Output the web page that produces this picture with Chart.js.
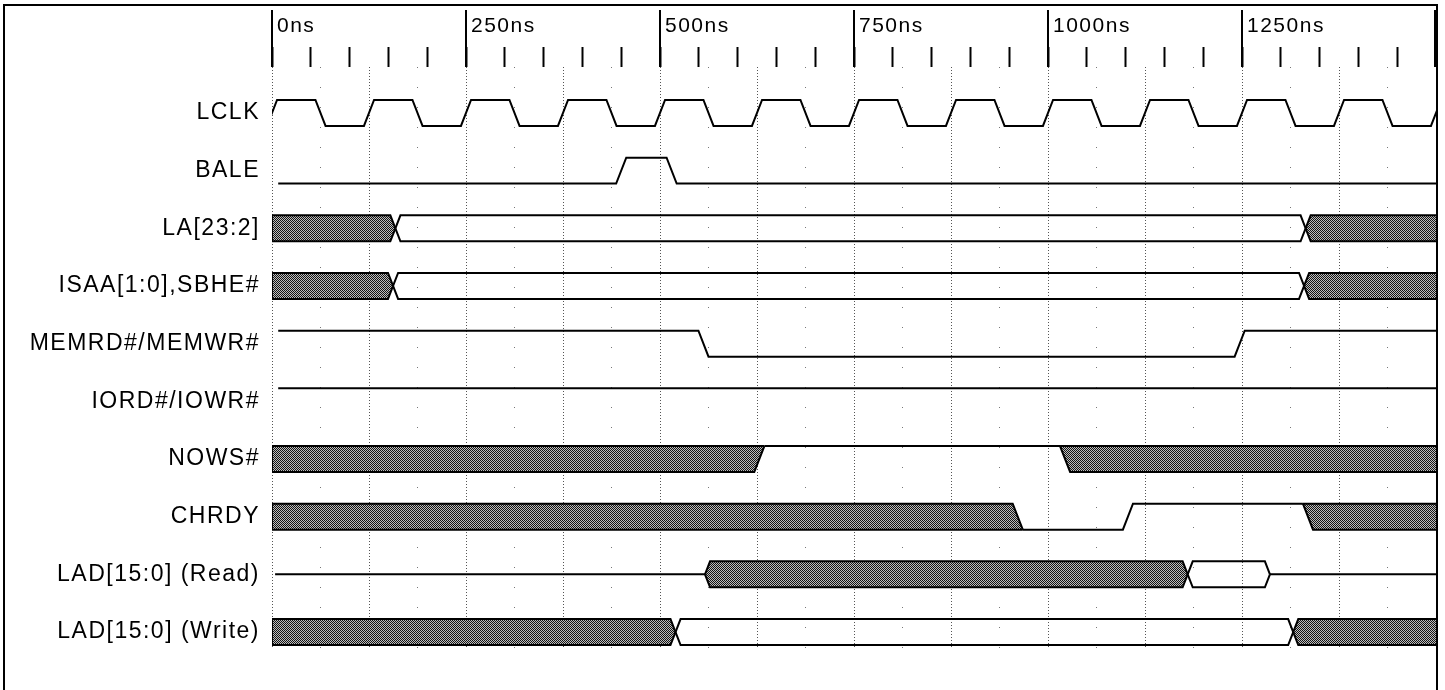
<!DOCTYPE html>
<html>
<head>
<meta charset="utf-8">
<title>ISA memory cycle timing</title>
<script src="https://cdn.jsdelivr.net/npm/chart.js@4.4.1/dist/chart.umd.min.js"></script>
<style>
html, body { margin: 0; padding: 0; background: #fff; }
#wrap { position: relative; width: 1445px; height: 690px; overflow: hidden; }
#timing { position: absolute; left: 0; top: 0; }
#frame { position: absolute; left: 3px; top: 4px; width: 1431px; height: 700px; border: 2px solid #000; border-bottom: none; pointer-events: none; }
</style>
</head>
<body>
<div id="wrap">
  <canvas id="timing" width="1445" height="690"></canvas>
  <div id="frame"></div>
</div>
<script>
// 信号名（上から順）
const rowNames = ['LCLK', 'BALE', 'LA[23:2]', 'ISAA[1:0],SBHE#', 'MEMRD#/MEMWR#',
                  'IORD#/IOWR#', 'NOWS#', 'CHRDY', 'LAD[15:0] (Read)', 'LAD[15:0] (Write)'];

// 時間軸の目盛り (ns)
const majorTimes  = [0, 250, 500, 750, 1000, 1250, 1500];
const majorLabels = ['0ns', '250ns', '500ns', '750ns', '1000ns', '1250ns', ''];
const T_END = 1500;

// 各信号の変化点 [時刻ns, 状態]  H=high L=low Z=float X=不定 V=有効
const lclk = [[-60, 'L'], [0, 'H'], [62.5, 'L'], [125, 'H'], [187.5, 'L'], [250, 'H'], [312.5, 'L'],
              [375, 'H'], [437.5, 'L'], [500, 'H'], [562.5, 'L'], [625, 'H'], [687.5, 'L'],
              [750, 'H'], [812.5, 'L'], [875, 'H'], [937.5, 'L'], [1000, 'H'], [1062.5, 'L'],
              [1125, 'H'], [1187.5, 'L'], [1250, 'H'], [1312.5, 'L'], [1375, 'H'], [1437.5, 'L'],
              [1500, 'H']];
const bale     = [[8, 'L'], [450, 'H'], [515, 'L']];
const la       = [[0, 'X'], [159, 'V'], [1332, 'X']];
const isaa     = [[0, 'X'], [156, 'V'], [1330, 'X']];
const memrd    = [[8, 'H'], [556, 'L'], [1247, 'H']];
const iord     = [[8, 'H']];
const nows     = [[0, 'X'], [628, 'H'], [1022, 'X']];
const chrdy    = [[0, 'X'], [961, 'L'], [1103, 'H'], [1335, 'X']];
const ladRead  = [[4, 'Z'], [558, 'X'], [1180, 'V'], [1286, 'Z']];
const ladWrite = [[0, 'X'], [520, 'V'], [1316, 'X']];
const signals = [lclk, bale, la, isaa, memrd, iord, nows, chrdy, ladRead, ladWrite];

// 描画用の定数
const EDGE = 6.5;      // 遷移の半分の幅 (ns)
const HALF = 0.225;    // 信号の半分の高さ (行単位)
const Y_MIN = -0.797;
const Y_MAX = 9.277;

const canvas = document.getElementById('timing');

// 網掛けパターン
function makeHatch() {
    const c = document.createElement('canvas');
    c.width = 2;
    c.height = 2;
    const g = c.getContext('2d');
    g.fillStyle = '#bdbdbd';
    g.fillRect(0, 0, 2, 2);
    g.fillStyle = '#141414';
    g.fillRect(0, 0, 1, 1);
    g.fillRect(1, 1, 1, 1);
    return canvas.getContext('2d').createPattern(c, 'repeat');
}
const hatch = makeHatch();

function pt(x, y) { return { x: x, y: y }; }

function lineDs(points, fillNext) {
    return {
        data: points,
        borderColor: '#000',
        borderWidth: 2,
        pointRadius: 0,
        tension: 0,
        fill: fillNext ? '+1' : false,
        backgroundColor: fillNext ? hatch : 'transparent'
    };
}

const isBus = s => s === 'X' || s === 'V';

// 1つの信号の線・網掛けを作る
function buildSignal(row, edges) {
    const out = [];
    const top = row - HALF, bot = row + HALF;
    const lvl = { H: top, L: bot, Z: row };
    let cur = null;
    edges.forEach(([t0, s], i) => {
        const prev = i > 0 ? edges[i - 1][1] : null;
        const hasNext = i + 1 < edges.length;
        const t1 = hasNext ? edges[i + 1][0] : T_END;
        const next = hasNext ? edges[i + 1][1] : null;
        if (!isBus(s)) {
            const y = lvl[s];
            const x0 = prev === null ? t0 : (s === 'Z' ? t0 : t0 + EDGE);
            const x1 = next === null ? T_END : (s === 'Z' ? t1 : t1 - EDGE);
            if (!cur) cur = [];
            cur.push(pt(x0, y), pt(x1, y));
            if (next === null || isBus(next)) {
                out.push(lineDs(cur, false));
                cur = null;
            }
            return;
        }
        const T = [], B = [];
        if (prev === null) {
            T.push(pt(t0, top));
            B.push(pt(t0, top), pt(t0, bot));
        } else if (prev === 'H') {
            T.push(pt(t0 - EDGE, top));
            B.push(pt(t0 - EDGE, top), pt(t0 + EDGE, bot));
        } else if (prev === 'L') {
            T.push(pt(t0 - EDGE, bot), pt(t0 + EDGE, top));
            B.push(pt(t0 - EDGE, bot));
        } else {
            T.push(pt(t0, row), pt(t0 + EDGE, top));
            B.push(pt(t0, row), pt(t0 + EDGE, bot));
        }
        if (next === null) {
            T.push(pt(T_END, top));
            B.push(pt(T_END, bot));
        } else if (next === 'H') {
            T.push(pt(t1 + EDGE, top));
            B.push(pt(t1 - EDGE, bot), pt(t1 + EDGE, top));
        } else if (next === 'L') {
            T.push(pt(t1 - EDGE, top), pt(t1 + EDGE, bot));
            B.push(pt(t1 + EDGE, bot));
        } else {
            T.push(pt(t1 - EDGE, top), pt(t1, row));
            B.push(pt(t1 - EDGE, bot), pt(t1, row));
        }
        out.push(lineDs(T, s === 'X'), lineDs(B, false));
    });
    return out;
}

let datasets = [];
signals.forEach((edges, row) => {
    datasets = datasets.concat(buildSignal(row, edges));
});

// 文字間隔を少し広げる
const textSpacing = {
    id: 'textSpacing',
    beforeDraw(chart) {
        chart.ctx.letterSpacing = '1.5px';
    }
};

// 250ns毎の長い目盛り
const majorTicks = {
    id: 'majorTicks',
    afterDraw(chart) {
        const ctx = chart.ctx;
        const x = chart.scales.x;
        ctx.save();
        ctx.strokeStyle = '#000';
        ctx.lineWidth = 2;
        majorTimes.forEach(v => {
            const px = Math.round(x.getPixelForValue(v)) + (v === T_END ? -1 : 0);
            ctx.beginPath();
            ctx.moveTo(px, x.top + 5);
            ctx.lineTo(px, x.bottom);
            ctx.stroke();
        });
        ctx.restore();
    }
};

new Chart(canvas, {
    type: 'line',
    data: { datasets: datasets },
    plugins: [textSpacing, majorTicks],
    options: {
        responsive: false,
        animation: false,
        events: [],
        layout: { padding: { top: 5, right: 9, bottom: 42, left: 0 } },
        plugins: {
            legend: { display: false },
            tooltip: { enabled: false },
            filler: { drawTime: 'beforeDatasetsDraw' }
        },
        scales: {
            x: {
                type: 'linear',
                position: 'top',
                min: 0,
                max: T_END,
                ticks: {
                    stepSize: 50,
                    autoSkip: false,
                    maxRotation: 0,
                    align: 'start',
                    labelOffset: 5,
                    padding: 8,
                    color: '#000',
                    font: { family: 'Liberation Sans', size: 21 },
                    callback: v => {
                        const i = majorTimes.indexOf(v);
                        return i >= 0 ? majorLabels[i] : '';
                    }
                },
                grid: { drawOnChartArea: false, tickLength: 20, tickWidth: 2, tickColor: '#000' },
                border: { display: false },
                afterFit: s => { s.height = 62; }
            },
            xg: {
                type: 'linear',
                position: 'bottom',
                min: 0,
                max: T_END,
                ticks: { stepSize: 62.5, display: false, autoSkip: false },
                grid: {
                    drawTicks: false,
                    lineWidth: 1,
                    color: c => (c.index % 2 === 0 ? '#555' : '#777')
                },
                border: {
                    display: false,
                    dash: c => (c.index % 2 === 0 ? [1, 2] : [1, 19])
                },
                afterFit: s => { s.height = 0; }
            },
            y: {
                type: 'linear',
                reverse: true,
                min: Y_MIN,
                max: Y_MAX,
                afterBuildTicks: s => { s.ticks = rowNames.map((_, i) => ({ value: i })); },
                ticks: {
                    autoSkip: false,
                    padding: 12,
                    color: '#000',
                    font: { family: 'Liberation Sans', size: 23 },
                    callback: v => rowNames[v]
                },
                grid: { display: false, drawTicks: false },
                border: { display: false },
                afterFit: s => { s.width = 272; }
            }
        }
    }
});
</script>
</body>
</html>
